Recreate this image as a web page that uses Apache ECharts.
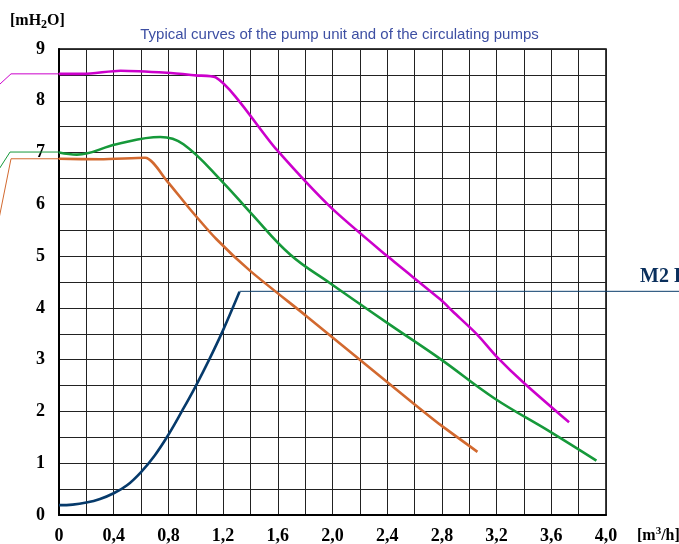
<!DOCTYPE html>
<html>
<head>
<meta charset="utf-8">
<script src="https://cdn.jsdelivr.net/npm/echarts@6/dist/echarts.min.js"></script>
<style>
  html, body { margin: 0; padding: 0; background: #fff; }
  #main { width: 679px; height: 544px; }
</style>
</head>
<body>
<div id="main"></div>
<script>
// curves: [flow m3/h, head mH2O]
var magentaCurve = [[0, 8.52], [0.18, 8.52], [0.45, 8.58], [0.79, 8.54], [1.0, 8.49], [1.146, 8.45],
    [1.59, 7.06], [1.98, 5.96], [2.40, 5.0], [2.79, 4.16], [2.88, 3.93], [3.06, 3.48], [3.20, 3.06],
    [3.40, 2.55], [3.73, 1.79]];
var greenCurve = [[0, 7.0], [0.13, 6.96], [0.42, 7.16], [0.74, 7.30], [0.91, 7.16], [1.20, 6.42],
    [1.40, 5.84], [1.69, 5.03], [1.98, 4.48], [2.40, 3.71], [2.79, 3.01], [3.18, 2.26], [3.59, 1.61],
    [3.93, 1.05]];
var orangeCurve = [[0, 6.88], [0.3, 6.87], [0.63, 6.9], [0.79, 6.45], [0.96, 5.9], [1.15, 5.33],
    [1.40, 4.71], [1.81, 3.84], [2.20, 3.0], [2.59, 2.16], [2.79, 1.74], [3.06, 1.22]];
var blueCurve = [[0, 0.19], [0.1, 0.20], [0.2, 0.24], [0.3, 0.31], [0.4, 0.42], [0.5, 0.58],
    [0.6, 0.83], [0.7, 1.15], [0.8, 1.55], [0.9, 2.01], [1.0, 2.49], [1.1, 3.01], [1.2, 3.57],
    [1.32, 4.31]];
// thin leader lines that run outside the plot (same units, drawn on a hidden full-page grid)
var magentaLead = [[-0.47, 8.23], [-0.351, 8.52], [0, 8.52]];
var greenLead = [[-0.47, 6.55], [-0.358, 7.01], [0, 7.01]];
var orangeLead = [[-0.47, 5.31], [-0.351, 6.88], [0, 6.88]];
var blueLead = [[1.32, 4.32], [4.7, 4.32]];

var W = 679, H = 544;
var plot = { left: 59, right: 73, top: 49, bottom: 29 };
var xMax = 4, yMax = 9;

var chart = echarts.init(document.getElementById('main'));

// hidden axes spanning the whole page with the same scale as the plot
var pxX = (W - plot.left - plot.right) / xMax;
var pxY = (H - plot.top - plot.bottom) / yMax;
var fullX = { min: -plot.left / pxX, max: (W - plot.left) / pxX };
var fullY = { min: -plot.bottom / pxY, max: (H - plot.bottom) / pxY };

function curve(data, color, smooth) {
    return {
        type: 'line', data: data, smooth: smooth,
        showSymbol: false, silent: true,
        lineStyle: { color: color, width: 2.6 }
    };
}
function lead(data, color) {
    return {
        type: 'line', data: data, showSymbol: false, silent: true,
        xAxisIndex: 1, yAxisIndex: 1,
        lineStyle: { color: color, width: 1 }
    };
}

var axisFont = { fontFamily: 'Liberation Serif', fontWeight: 'bold', fontSize: 18, color: '#000' };
var gridLine = { show: true, lineStyle: { color: '#222', width: 1 } };

option = {
    animation: false,
    title: {
        text: 'Typical curves of the pump unit and of the circulating pumps',
        left: 'center', top: 22,
        textStyle: { fontFamily: 'Liberation Sans', fontWeight: 'normal', fontSize: 15, color: '#3d4fa3' }
    },
    grid: [
        { left: plot.left, right: plot.right, top: plot.top, bottom: plot.bottom, show: true,
          borderColor: '#000', borderWidth: 1.5, outerBoundsMode: 'none', containLabel: false },
        { left: 0, right: 0, top: 0, bottom: 0, outerBoundsMode: 'none', containLabel: false }
    ],
    xAxis: [{
        type: 'value', min: 0, max: xMax, interval: 0.4,
        axisLine: { show: true, lineStyle: { color: '#000', width: 2 } },
        axisTick: { show: false },
        axisLabel: Object.assign({
            margin: 12,
            formatter: function (v) { return v === 0 ? '0' : v.toFixed(1).replace('.', ','); }
        }, axisFont),
        splitLine: gridLine,
        minorTick: { show: false, splitNumber: 2 },
        minorSplitLine: gridLine,
        name: '{a|[m}{s|3}{a|/h]}', nameLocation: 'end', nameGap: 31,
        nameTextStyle: {
            verticalAlign: 'top', padding: [11, 0, 0, 0],
            rich: {
                a: { fontFamily: 'Liberation Serif', fontWeight: 'bold', fontSize: 16, color: '#000' },
                s: { fontFamily: 'Liberation Serif', fontWeight: 'bold', fontSize: 11, color: '#000', padding: [0, 0, 8, 0] }
            }
        }
    }, {
        type: 'value', gridIndex: 1, min: fullX.min, max: fullX.max, show: false, splitLine: { show: false }
    }],
    yAxis: [{
        type: 'value', min: 0, max: yMax, interval: 1,
        axisLine: { show: true, lineStyle: { color: '#000', width: 2 } },
        axisTick: { show: false },
        axisLabel: Object.assign({ margin: 14 }, axisFont),
        splitLine: gridLine,
        minorTick: { show: false, splitNumber: 2 },
        minorSplitLine: gridLine,
        name: '{a|[mH}{s|2}{a|O]}', nameLocation: 'end', nameGap: 18,
        nameTextStyle: {
            align: 'left', padding: [0, 0, 0, -49],
            rich: {
                a: { fontFamily: 'Liberation Serif', fontWeight: 'bold', fontSize: 16, color: '#000' },
                s: { fontFamily: 'Liberation Serif', fontWeight: 'bold', fontSize: 12, color: '#000', padding: [8, 0, 0, 0] }
            }
        }
    }, {
        type: 'value', gridIndex: 1, min: fullY.min, max: fullY.max, show: false, splitLine: { show: false }
    }],
    graphic: [{
        type: 'text', left: 640, top: 267,
        style: { text: 'M2 FLOW', fontFamily: 'Liberation Serif', fontWeight: 'bold', fontSize: 20, fill: '#0a2f5c' }
    }],
    series: [
        lead(magentaLead, '#cc00cc'),
        lead(greenLead, '#16993a'),
        lead(orangeLead, '#d2692f'),
        lead(blueLead, '#0a3d6b'),
        curve(magentaCurve, '#cc00cc', 0.25),
        curve(greenCurve, '#16993a', 0.4),
        curve(orangeCurve, '#d2692f', 0.25),
        curve(blueCurve, '#063a6b', 0.4)
    ]
};
chart.setOption(option);
</script>
</body>
</html>
